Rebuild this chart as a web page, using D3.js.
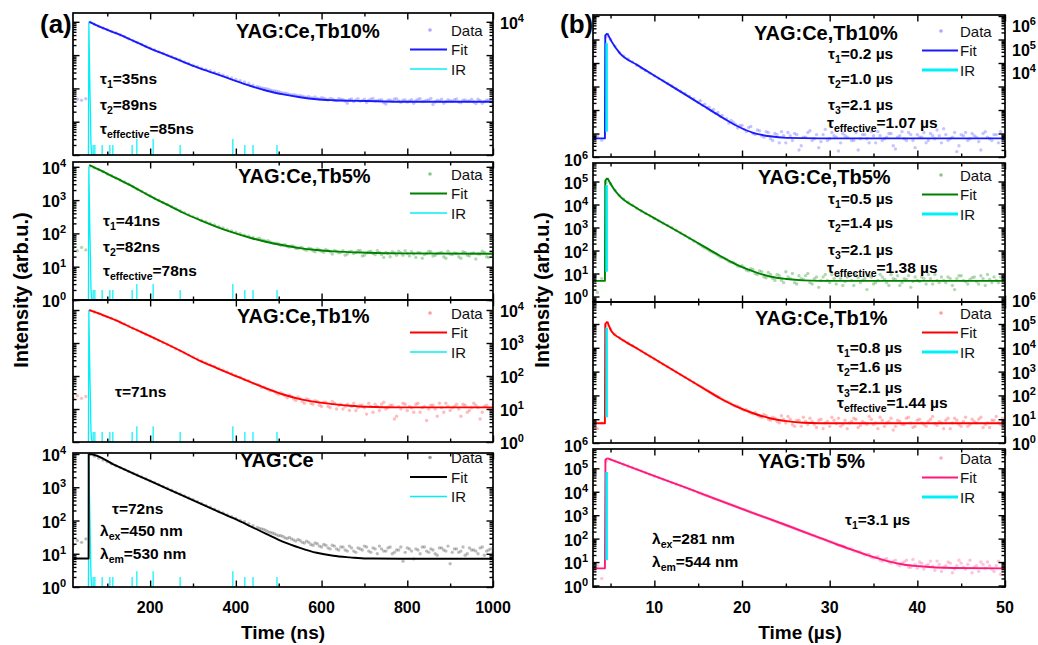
<!DOCTYPE html>
<html><head><meta charset="utf-8">
<script src="https://cdn.jsdelivr.net/npm/d3@7"></script>
<style>
body{margin:0;background:#fff;}
svg{display:block;font-family:"Liberation Sans",Arial,Helvetica,sans-serif;}
</style></head><body>
<svg id="c" width="1038" height="645"></svg>
<script>
// ---------------- DATA ----------------
const timeNs = d3.range(20, 1001, 10);        // sample times, panel (a), ns
const timeNsTail = d3.range(455, 1000, 10);   // extra samples in the tail, ns
const timeUs = d3.range(3, 50.01, 0.5);       // sample times, panel (b), µs
const timeUsTail = d3.range(15.25, 50, 0.5);  // extra samples in the tail, µs
const xTicksA = [200, 400, 600, 800, 1000];
const xTicksB = [10, 20, 30, 40, 50];

// (a) measured decays
const dataTb10A = [42,47,44,49,9800,8500,7400,6500,5800,5100,
 4600,4100,3600,3100,2700,2400,2100,1850,1600,1420,
 1250,1120,1000,890,790,710,620,560,500,450,
 405,370,340,305,280,250,225,205,185,170,
 155,140,125,115,104,98,90,84,80,72,
 70,64,62,60,55,57,52,50,53,47,
 50,44,49,46,36,48,45,41,47,44,
 50,43,46,34,45,48,42,44,39,46,
 43,49,41,45,33,44,47,40,43,46,
 39,44,41,47,35,43,40,45,34];
const tailTb10A = [108,100,95,86,83,76,72,66,65,59,
 58,54,52,55,48,51,45,48,43,47,
 42,46,40,49,43,38,47,42,45,37,
 44,41,49,38,45,42,36,47,40,44,
 50,39,42,36,46,41,48,37,45,42,
 39,47,36,44,41];
const dataTb5A = [35,30,38,32,10500,9300,8200,7100,6100,5400,
 4600,4000,3500,3000,2550,2150,1850,1580,1350,1150,
 990,850,730,640,550,480,415,365,320,285,
 250,225,200,178,160,145,130,118,108,98,
 88,82,75,68,63,58,55,50,48,45,
 40,42,36,38,33,36,30,34,29,33,
 28,31,26,30,24,29,27,31,22,28,
 25,30,23,27,20,26,29,22,25,28,
 19,26,23,29,21,25,27,18,24,26,
 20,28,22,25,17,24,27,19,22];
const tailTb5A = [72,62,60,52,51,44,46,39,41,35,
 37,31,35,28,32,27,31,24,29,27,
 22,28,25,30,21,26,29,23,27,19,
 25,28,22,26,30,21,24,27,18,25,
 28,22,26,20,29,23,25,18,27,21,
 26,24,29,20,25];
const dataTb1A = [22,25,21,24,9600,8700,7800,7000,6300,5600,
 5000,4300,3800,3300,2800,2450,2150,1850,1620,1400,
 1200,1040,900,780,670,580,500,430,375,330,
 285,250,220,195,172,150,133,118,102,92,
 78,72,60,55,45,43,36,34,28,28,
 22,24,18,21,15,19,14,17,12,16,
 11,15,13,10,14,12,9,13,11,15,
 8,12,14,10,13,5,12,15,9,11,
 14,8,12,10,13,6,11,15,9,12,
 10,14,8,11,13,5,12,10,14];
const tailTb1A = [52,46,40,37,30,31,25,26,20,23,
 17,20,15,18,13,16,12,17,10,14,
 12,9,15,11,13,7,12,14,9,16,
 11,13,6,10,14,12,8,15,11,4.5,
 13,10,15,8,12,11,14,6,13,9,
 15,11,8,13,10];
const dataCeA = [18,25,22,28,9800,8500,7500,6600,5800,5100,
 4450,3900,3450,3000,2650,2330,2050,1800,1550,1380,
 1200,1050,930,810,710,630,550,480,425,370,
 325,285,250,220,190,170,148,130,115,100,
 92,80,70,62,56,50,44,40,35,33,
 29,28,24,25,21,22,18,20,16,18,
 14,17,13,16,12,15,11,14,17,12,
 15,10,14,12,16,11,13,6,15,12,
 14,10,16,11,13,9,15,12,5,14,
 11,16,10,13,12,15,9,13,11];
const tailCeA = [58,54,46,42,37,35,30,31,26,27,
 22,24,19,21,17,19,15,18,14,16,
 13,17,12,15,13,16,11,14,17,12,
 15,10,13,16,11,14,7,13,16,12,
 14,10,15,13,17,11,14,12,9,15,
 13,10,16,12,14];

// (a) fits  [time ns, intensity]
const fitTb10A = [[58.1,10000],[83,7080],[121.9,4470],[160.8,2690],[199.7,1585],[238.5,1000],[277.4,631],[316.3,398],[355.2,269],[394.1,178],[433,120],[471.9,85],[510.7,66],[549.6,54],[588.5,47],[627.4,44],[705.2,41.7],[783,39.8],[1000,39.8]];
const fitTb5A = [[58.1,11200],[83,7940],[121.9,4470],[160.8,2510],[199.7,1320],[238.5,741],[277.4,417],[316.3,251],[355.2,158],[394.1,105],[433,74],[471.9,55],[510.7,44],[549.6,36],[588.5,31.6],[627.4,28.8],[705.2,26.3],[783,25.1],[1000,24.5]];
const fitTb1A = [[58.1,10000],[83,7590],[121.9,4790],[160.8,2750],[199.7,1620],[238.5,933],[277.4,525],[316.3,288],[355.2,174],[394.1,107],[433,66],[471.9,41.7],[510.7,27.5],[549.6,20],[588.5,16.2],[627.4,14.1],[666.3,12.6],[705.2,11.7],[783,11.2],[1000,11.2]];
const fitCeA = [[20,7.2],[56.4,7.2],[56.6,10000],[58.1,10000],[121.9,4370],[199.7,1550],[277.4,550],[355.2,195],[394.1,117],[433,68],[471.9,39],[510.7,22.9],[549.6,15.1],[588.5,10.7],[627.4,8.7],[666.3,7.8],[705.2,7.2],[783,7.1],[1000,7.1]];

// (a) instrument response
const irPulseA = [[56,1],[57,10000],[58.5,500],[60,50],[62,2],[64,1]];
const irSpikesA = [[67,2],[71,2],[88,2],[106,2],[113,2],[158,2],[169,3],[207,3],[270,2],[393,3],[421,2],[440,2],[496,2]];

// (b) measured decays
const dataTb10B = [6.3,8.1,5.2,130000,100000,52000,28000,20000,15000,11000,
 8000,6200,4800,3700,2900,2250,1750,1350,1050,800,
 630,490,390,300,215,160,125,95,72,55,
 42,28,30,17,22,12,20,9,13,7,
 11,5,9,12,4,8,10,2,7,11,
 5,9,4.5,15,6,8,1.8,10,7,5,
 11,6,9,4,8,12,5,7,10,2.2,
 8,6,11,5,9,7,4,10,6,8,
 16,5,7,1.7,9,11,6,8,4.5,10,
 7,5,9,12,6];
const tailTb10B = [250,175,130,105,78,58,42,36,25,22,
 15,18,10,14,8,12,6,10,4,8,
 11,5,9,3,7,13,6,2.5,9,5,
 11,7,4,8,14,5,2,9,6,12,
 4,8,6,10,3,7,12,5,9,2.5,
 7,11,5,8,14,4,9,6,11,3,
 8,5,10,7,2,12,6,9,4,8];
const dataTb5B = [5.5,1.5,6,90000,80000,42000,25000,17500,12500,9300,
 6800,5200,4100,3200,2500,1950,1550,1230,980,760,
 580,450,340,260,200,150,120,88,72,52,
 46,33,30,21,22,14,16,10,13,7,
 11,6,9,5,12,6,4,8,5.5,10,
 3.5,7,5,9,4,6,8,3,7,5,
 9,4,6,8,3.5,5,7,4,9,5.5,
 3,6,8,4.5,5,7,3.5,6,9,4,
 5,7,3,6,8,4.5,5.5,7,3.5,6,
 9,4,5,7,3.5];
const tailTb5B = [175,130,100,80,62,50,40,31,26,20,
 18,13,15,9,12,6.5,9,5,8,4,
 7,10,3.5,6,8,4,6,2.5,7,5,
 9,3.5,6,4.5,8,3,6.5,5,2,7,
 4,9,5.5,3,6,8,4,5.5,2.5,7,
 4.5,6,9,3.5,5,7,4,6,2,8,
 5,3.5,6.5,4.5,8,3,5.5,7,4,6];
const dataTb1B = [5.5,4,7,85000,62000,37000,26000,20500,16000,12300,
 9500,7300,5600,4400,3400,2600,2050,1600,1230,950,
 740,580,450,350,270,210,165,125,100,80,
 58,52,38,35,26,25,18,19,13,16,
 10,12,8,14,7,10,5,9,12,6,
 8,4.5,10,7,5,9,11,6,4,8,
 10,5.5,7,13,6,4,9,7,11,5,
 8,6,12,4.5,9,7,5,10,6.5,8,
 4,11,7,9,5,12,6,8,10,4.5,
 7,9,13,6,8];
const tailTb1B = [240,185,140,112,88,68,55,44,36,31,
 24,21,17,15,12,14,9,11,7,10,
 13,6,9,5,8,11,6,9,4,8,
 12,6.5,5,9,7,11,4.5,8,6,10,
 7,12,5,8,3.5,9,6,11,7,5,
 10,6,8,13,5.5,7,9,4,11,6,
 8,5,10,7,12,6,4.5,9,7,11];
const dataTbB = [5,7,2,200000,240000,205000,174000,148000,126000,107000,
 91000,78000,65000,55000,47000,40000,34000,29000,24500,21000,
 17800,15100,12900,11000,9300,7900,6800,5750,4900,4200,
 3550,3000,2600,2200,1850,1600,1350,1150,980,830,
 710,600,510,440,370,320,270,230,195,170,
 140,122,100,90,72,66,52,48,38,36,
 28,27,20,21,15,17,11,14,9,12,
 7,10,6,13,5.5,9,7,11,4.5,8,
 6,10,3.5,7,9,5,12,6,4,8,
 10,5,7,3,9];
const tailTbB = [8700,7200,6300,5200,4500,3900,3300,2800,2400,2000,
 1750,1480,1250,1060,910,770,660,560,470,410,
 345,300,250,215,185,155,135,110,96,80,
 70,58,50,44,37,30,27,23,21,16,
 16,12,13,10,11,8,9,12,6,8,
 10,5,8,6.5,11,4,7,9,5,12,
 6,8,3.5,7,10,5.5,7,4,11,6];

// (b) fits  [time µs, intensity]
const fitTb10B = [[3,6.2],[4.36,6.2],[4.4,150000],[4.634,182000],[5.13,81300],[6.08,25700],[7.98,8510],[9.88,3090],[11.78,1150],[13.68,417],[15.58,151],[17.48,55],[19.38,21.4],[21.28,10.7],[23.18,7.6],[25.08,6.5],[28.88,6.2],[50,6.2]];
const fitTb5B = [[3,4.8],[4.36,4.8],[4.4,110000],[4.634,141000],[5.32,51300],[6.08,22400],[7.98,7080],[9.88,2690],[11.78,1050],[13.68,407],[15.58,155],[17.48,59],[19.38,24.5],[21.28,12.3],[23.18,7.4],[25.08,5.75],[26.98,5.0],[28.88,4.8],[50,4.8]];
const fitTb1B = [[3,6.8],[4.36,6.8],[4.4,100000],[4.634,126000],[5.13,47900],[6.08,25100],[7.98,9550],[9.88,3630],[11.78,1380],[13.68,525],[15.58,200],[17.48,76],[19.38,34],[21.28,17.8],[23.18,11],[25.08,8.3],[26.98,7.1],[28.88,6.8],[50,6.8]];
const fitTbB = [[3,5.4],[4.36,5.4],[4.42,230000],[4.634,270000],[9.88,49000],[13.68,14500],[17.48,4170],[21.28,1230],[25.08,372],[28.88,107],[30.78,57.5],[32.68,32.4],[34.58,18.2],[36.48,11.2],[38.38,7.9],[40.28,6.6],[44.08,5.6],[50,5.4]];

// (b) instrument response
const irPulseB = [[4.55,12],[4.55,70000]];

// ---------------- LAYOUT ----------------
const svg = d3.select('#c');
const xA = d3.scaleLinear().domain([20, 1000]).range([73, 493]);
const xB = d3.scaleLinear().domain([3, 50]).range([593, 1005]);

const N = (s) => [['τ'], [s, 1]];
const panels = [
 {x:xA, t:timeNs, tt:timeNsTail, top:13, bottom:155, p0:155, s:33.3, data:dataTb10A, tail:tailTb10A, fit:fitTb10A, side:'a',
  color:'#1a1aff', dot:'#6f6fff', title:'YAG:Ce,Tb10%', tx:236, ty:38, legY:30, labL:[], labR:[4], labRdy:0,
  notes:[{x:100,y:84,p:[...N('1'),['=35ns']]},{x:100,y:110,p:[...N('2'),['=89ns']]},{x:100,y:134,p:[...N('effective'),['=85ns']]}]},
 {x:xA, t:timeNs, tt:timeNsTail, top:162, bottom:300, p0:300, s:33.3, data:dataTb5A, tail:tailTb5A, fit:fitTb5A, side:'a',
  color:'#008000', dot:'#3f9f3f', title:'YAG:Ce,Tb5%', tx:238, ty:183, legY:174, labL:[0,1,2,3,4], labR:[],
  notes:[{x:103,y:226,p:[...N('1'),['=41ns']]},{x:103,y:252,p:[...N('2'),['=82ns']]},{x:103,y:276,p:[...N('effective'),['=78ns']]}]},
 {x:xA, t:timeNs, tt:timeNsTail, top:300, bottom:442, p0:442, s:33, data:dataTb1A, tail:tailTb1A, fit:fitTb1A, side:'a',
  color:'#ff0000', dot:'#ff5a5a', title:'YAG:Ce,Tb1%', tx:237, ty:323, legY:313, labL:[], labR:[0,1,2,3,4], labRdy:0,
  notes:[{x:115,y:397,p:[['τ=71ns']]}]},
 {x:xA, t:timeNs, tt:timeNsTail, top:453, bottom:587, p0:587, s:33.25, data:dataCeA, tail:tailCeA, fit:fitCeA, side:'a',
  color:'#000000', dot:'#5a5a5a', title:'YAG:Ce', tx:240, ty:467, legY:457.5, labL:[0,1,2,3,4], labR:[],
  notes:[{x:112,y:514,p:[['τ=72ns']]},{x:100,y:536,p:[['λ'],['ex',1],['=450 nm']]},{x:100,y:559,p:[['λ'],['em',1],['=530 nm']]}]},
 {x:xB, t:timeUs, tt:timeUsTail, top:15, bottom:157, p0:157, s:23.5, data:dataTb10B, tail:tailTb10B, fit:fitTb10B, side:'b',
  color:'#1a1aff', dot:'#6f6fff', title:'YAG:Ce,Tb10%', tx:754, ty:40, legY:31, labL:[], labR:[4,5,6], labRdy:9,
  notes:[{x:828,y:59,p:[...N('1'),['=0.2 µs']]},{x:828,y:84,p:[...N('2'),['=1.0 µs']]},{x:828,y:110,p:[...N('3'),['=2.1 µs']]},{x:827,y:128,p:[...N('effective'),['=1.07 µs']]}]},
 {x:xB, t:timeUs, tt:timeUsTail, top:163, bottom:302, p0:296.5, s:23, data:dataTb5B, tail:tailTb5B, fit:fitTb5B, side:'b',
  color:'#008000', dot:'#3f9f3f', title:'YAG:Ce,Tb5%', tx:758, ty:184, legY:175, labL:[0,1,2,3,4,5,6], labR:[],
  notes:[{x:828,y:204,p:[...N('1'),['=0.5 µs']]},{x:828,y:228,p:[...N('2'),['=1.4 µs']]},{x:828,y:255,p:[...N('3'),['=2.1 µs']]},{x:827,y:273,p:[...N('effective'),['=1.38 µs']]}]},
 {x:xB, t:timeUs, tt:timeUsTail, top:302, bottom:443, p0:443, s:23.8, data:dataTb1B, tail:tailTb1B, fit:fitTb1B, side:'b',
  color:'#ff0000', dot:'#ff5a5a', title:'YAG:Ce,Tb1%', tx:755, ty:325, legY:313, labL:[], labR:[0,1,2,3,4,5,6], labRdy:0,
  notes:[{x:837,y:353,p:[...N('1'),['=0.8 µs']]},{x:837,y:372,p:[...N('2'),['=1.6 µs']]},{x:837,y:393,p:[...N('3'),['=2.1 µs']]},{x:837,y:408,p:[...N('effective'),['=1.44 µs']]}]},
 {x:xB, t:timeUs, tt:timeUsTail, top:449, bottom:587, p0:585.5, s:23.44, data:dataTbB, tail:tailTbB, fit:fitTbB, side:'b',
  color:'#ff1a7a', dot:'#ff6aa5', title:'YAG:Tb 5%', tx:758, ty:468, legY:458, labL:[0,1,2,3,4,5,6], labR:[],
  notes:[{x:845,y:525,p:[...N('1'),['=3.1 µs']]},{x:652,y:544,p:[['λ'],['ex',1],['=281 nm']]},{x:652,y:567,p:[['λ'],['em',1],['=544 nm']]}]}
];

function yScaleFor(p) {
  return d3.scaleLog()
    .domain([Math.pow(10, (p.p0 - p.bottom) / p.s), Math.pow(10, (p.p0 - p.top) / p.s)])
    .range([p.bottom, p.top]);
}
function logTicks(y) {
  const [a, b] = y.domain(), maj = [], min = [];
  for (let k = Math.floor(Math.log10(a)) - 1; k <= Math.ceil(Math.log10(b)); k++)
    for (let m = 1; m < 10; m++) {
      const v = m * Math.pow(10, k);
      if (v >= a * 0.999 && v <= b * 1.001) (m === 1 ? maj : min).push(v);
    }
  return {maj, min};
}
function expLabel(g, x, y, k, anchor) {
  const t = g.append('text').attr('x', x).attr('y', y + 7).attr('text-anchor', anchor)
    .attr('font-size', 16).attr('font-weight', 'bold').attr('fill', '#000');
  t.append('tspan').text('10');
  t.append('tspan').attr('dy', -7).attr('font-size', 11).text(k);
}
function richText(g, x, y, parts, size, weight) {
  const t = g.append('text').attr('x', x).attr('y', y).attr('font-size', size).attr('font-weight', weight).attr('fill', '#000');
  let shift = 0;
  parts.forEach(pt => {
    const sub = pt[1] === 1;
    const want = sub ? 4 : 0;
    t.append('tspan').attr('dy', want - shift).attr('font-size', sub ? 10.5 : size).text(pt[0]);
    shift = want;
  });
  return t;
}

panels.forEach((p, i) => {
  const x = p.x, y = yScaleFor(p);
  const [x0, x1] = x.range();
  const g = svg.append('g');
  const cid = 'clip' + i;
  g.append('clipPath').attr('id', cid).append('rect')
    .attr('x', x0).attr('y', p.top).attr('width', x1 - x0).attr('height', p.bottom - p.top);
  const plot = g.append('g').attr('clip-path', `url(#${cid})`);

  // measured points
  const pts = p.data.map((v, j) => [p.t[j], v]).concat(p.tail.map((v, j) => [p.tt[j], v]));
  plot.selectAll('circle.d').data(pts).join('circle')
    .attr('cx', d => x(d[0])).attr('cy', d => y(d[1])).attr('r', 1.7)
    .attr('fill', p.dot).attr('fill-opacity', 0.4);

  // instrument response
  const line = d3.line().x(d => x(d[0])).y(d => y(d[1]));
  if (p.side === 'a') {
    plot.append('path').attr('d', line(irPulseA)).attr('fill', 'none').attr('stroke', '#00f0f8').attr('stroke-width', 1.3);
    plot.selectAll('line.ir').data(irSpikesA).join('line')
      .attr('x1', d => x(d[0])).attr('x2', d => x(d[0])).attr('y1', y(1)).attr('y2', d => y(d[1]))
      .attr('stroke', '#00f0f8').attr('stroke-width', 1.2);
  }

  // fit: rise drawn straight, decay smoothed
  const iMax = d3.maxIndex(p.fit, d => d[1]);
  const fitStyle = s => s.attr('fill', 'none').attr('stroke', p.color).attr('stroke-width', 1.9).attr('stroke-linejoin', 'round');
  if (iMax > 0) plot.append('path').attr('d', line(p.fit.slice(0, iMax + 1))).call(fitStyle);
  plot.append('path').attr('d', d3.line().x(d => x(d[0])).y(d => y(d[1])).curve(d3.curveMonotoneX)(p.fit.slice(iMax))).call(fitStyle);

  if (p.side === 'b') {
    plot.append('path').attr('d', line(irPulseB)).attr('fill', 'none').attr('stroke', '#00f0f8').attr('stroke-width', 2.6);
  }

  // axes (ticks inward, four sides)
  const lt = logTicks(y);
  const xt = p.side === 'a' ? d3.range(100, 1001, 100) : d3.range(5, 50.1, 5);
  const xMaj = p.side === 'a' ? xTicksA : xTicksB;
  const xMin = xt.filter(v => !xMaj.includes(v));
  const ax = (gen, pos, vals, len) => {
    const a = g.append('g').attr('transform', pos).call(gen.tickValues(vals).tickSize(-len).tickSizeOuter(0).tickFormat(''));
    a.select('.domain').remove();
    a.selectAll('.tick line').attr('stroke', '#000').attr('stroke-width', 1.4);
  };
  ax(d3.axisLeft(y), `translate(${x0},0)`, lt.maj, 6.5);
  ax(d3.axisLeft(y), `translate(${x0},0)`, lt.min, 3.5);
  ax(d3.axisRight(y), `translate(${x1},0)`, lt.maj, 6.5);
  ax(d3.axisRight(y), `translate(${x1},0)`, lt.min, 3.5);
  ax(d3.axisTop(x), `translate(0,${p.top})`, xMaj, 6.5);
  ax(d3.axisTop(x), `translate(0,${p.top})`, xMin, 3.5);
  ax(d3.axisBottom(x), `translate(0,${p.bottom})`, xMaj, 6.5);
  ax(d3.axisBottom(x), `translate(0,${p.bottom})`, xMin, 3.5);

  g.append('rect').attr('x', x0).attr('y', p.top).attr('width', x1 - x0).attr('height', p.bottom - p.top)
    .attr('fill', 'none').attr('stroke', '#000').attr('stroke-width', 1.7);

  // y tick labels
  const lx = p.side === 'a' ? 66 : 588;
  const rx = p.side === 'a' ? 500 : 1012;
  p.labL.forEach(k => expLabel(svg, lx, y(Math.pow(10, k)), k, 'end'));
  p.labR.forEach(k => expLabel(svg, rx, y(Math.pow(10, k)) + (p.labRdy || 0), k, 'start'));

  // title
  g.append('text').attr('x', p.tx).attr('y', p.ty).attr('font-size', 20).attr('font-weight', 'bold').text(p.title);

  // annotations
  p.notes.forEach(n => richText(g, n.x, n.y, n.p, 15.5, 'bold'));

  // legend
  const L = p.side === 'a' ? {l0:410, l1:447, dx:430, tx:451} : {l0:922, l1:958, dx:941, tx:960};
  const ly = p.legY;
  g.append('circle').attr('cx', L.dx).attr('cy', ly).attr('r', 1.8).attr('fill', p.dot).attr('fill-opacity', 0.6);
  g.append('line').attr('x1', L.l0).attr('x2', L.l1).attr('y1', ly + 19.5).attr('y2', ly + 19.5).attr('stroke', p.color).attr('stroke-width', 1.9);
  g.append('line').attr('x1', L.l0).attr('x2', L.l1).attr('y1', ly + 39).attr('y2', ly + 39).attr('stroke', '#00f0f8')
    .attr('stroke-width', p.side === 'a' ? 1.3 : 3);
  ['Data', 'Fit', 'IR'].forEach((s, j) => g.append('text').attr('x', L.tx).attr('y', ly + 5.5 + j * 19.5)
    .attr('font-size', 15).attr('fill', '#111').text(s));
});

// x tick labels
xTicksA.forEach(v => svg.append('text').attr('x', xA(v)).attr('y', 613).attr('text-anchor', 'middle')
  .attr('font-size', 16).attr('font-weight', 'bold').text(v));
xTicksB.forEach(v => svg.append('text').attr('x', xB(v)).attr('y', 613).attr('text-anchor', 'middle')
  .attr('font-size', 16).attr('font-weight', 'bold').text(v));

// axis titles
svg.append('text').attr('x', 283).attr('y', 639).attr('text-anchor', 'middle').attr('font-size', 19).attr('font-weight', 'bold').text('Time (ns)');
svg.append('text').attr('x', 800).attr('y', 639).attr('text-anchor', 'middle').attr('font-size', 19).attr('font-weight', 'bold').text('Time (µs)');
svg.append('text').attr('transform', 'translate(28,290) rotate(-90)').attr('text-anchor', 'middle').attr('font-size', 20).attr('font-weight', 'bold').text('Intensity (arb.u.)');
svg.append('text').attr('transform', 'translate(549,290) rotate(-90)').attr('text-anchor', 'middle').attr('font-size', 20).attr('font-weight', 'bold').text('Intensity (arb.u.)');

// panel letters
svg.append('text').attr('x', 40).attr('y', 33).attr('font-size', 26).attr('font-weight', 'bold').text('(a)');
svg.append('text').attr('x', 560).attr('y', 33).attr('font-size', 26).attr('font-weight', 'bold').text('(b)');
</script>
</body></html>
